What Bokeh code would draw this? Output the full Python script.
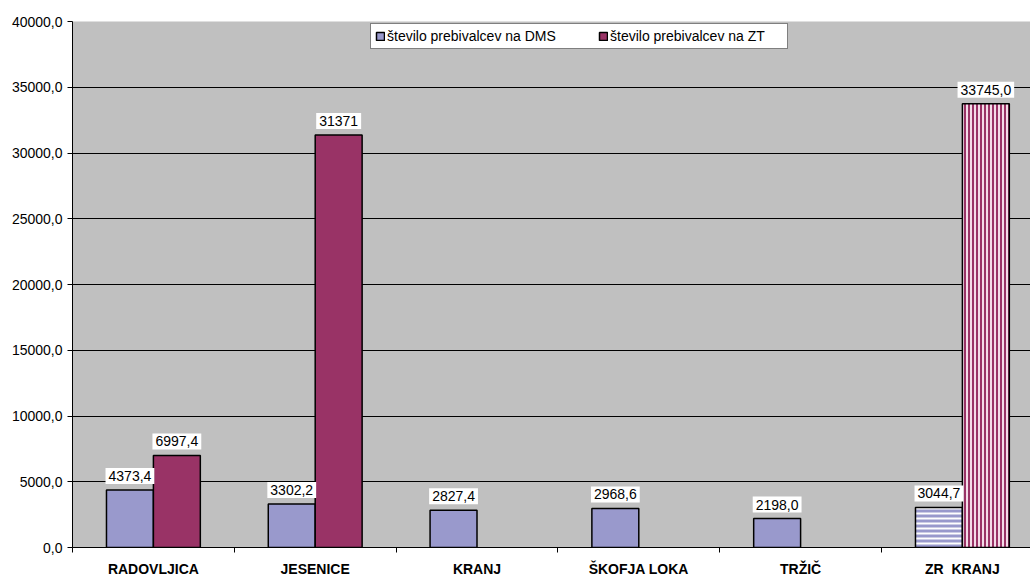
from bokeh.plotting import figure
from bokeh.models import ColumnDataSource, Range1d, FixedTicker, Legend, LegendItem
from bokeh.core.properties import value
from bokeh.embed import file_html
from bokeh.resources import INLINE

# ---- data ----
categories = ["RADOVLJICA", "JESENICE", "KRANJ", "ŠKOFJA LOKA", "TRŽIČ", "ZR\u00a0\u00a0KRANJ"]
dms_values = [4373.4, 3302.2, 2827.4, 2968.6, 2198.0, 3044.7]
zt_values = [6997.4, 31371.0, None, None, None, 33745.0]
dms_labels = ["4373,4", "3302,2", "2827,4", "2968,6", "2198,0", "3044,7"]
zt_labels = ["6997,4", "31371", "", "", "", "33745,0"]
is_total = [False, False, False, False, False, True]
y_ticks = [0, 5000, 10000, 15000, 20000, 25000, 30000, 35000, 40000]
y_tick_labels = ["0,0", "5000,0", "10000,0", "15000,0", "20000,0",
                 "25000,0", "30000,0", "35000,0", "40000,0"]
series_names = ["število prebivalcev na DMS", "število prebivalcev na ZT"]

# ---- styling ----
DMS_COLOR = "#9999CC"
ZT_COLOR = "#993366"
BG = "#C0C0C0"
FONT = "Liberation Sans"
BAR_W = 0.29
OFF = 0.145

n = len(categories)
pos = [i + 1 for i in range(n)]

def build(values, labels, offset, total_flag):
    d = dict(x=[], top=[], label=[])
    for p_, v, l, t in zip(pos, values, labels, is_total):
        if v is None or t != total_flag:
            continue
        d["x"].append(p_ + offset)
        d["top"].append(v)
        d["label"].append(l)
    return ColumnDataSource(d)

dms_plain = build(dms_values, dms_labels, -OFF, False)
dms_hatch = build(dms_values, dms_labels, -OFF, True)
zt_plain = build(zt_values, zt_labels, OFF, False)
zt_hatch = build(zt_values, zt_labels, OFF, True)

frame_w = 958
cat_px = 161.8
p = figure(
    frame_width=frame_w, frame_height=526,
    min_border_left=72, min_border_top=21, min_border_right=0, min_border_bottom=0,
    x_range=Range1d(0.5, 0.5 + frame_w / cat_px), y_range=Range1d(0, 40000),
    output_backend="svg", toolbar_location=None, tools="",
    background_fill_color=BG, border_fill_color="white",
)
p.outline_line_color = None

# bars
r_dms = p.vbar(x="x", top="top", width=BAR_W, source=dms_plain,
               fill_color=DMS_COLOR, line_color="black", line_width=1.5)
r_zt = p.vbar(x="x", top="top", width=BAR_W, source=zt_plain,
              fill_color=ZT_COLOR, line_color="black", line_width=1.5)
p.vbar(x="x", top="top", width=BAR_W, source=dms_hatch,
       fill_color=DMS_COLOR, line_color="black", line_width=1.5,
       hatch_pattern="horizontal_line", hatch_color="white", hatch_scale=5, hatch_weight=2)
p.vbar(x="x", top="top", width=BAR_W, source=zt_hatch,
       fill_color=ZT_COLOR, line_color="black", line_width=1.5,
       hatch_pattern="vertical_line", hatch_color="#F4DCE8", hatch_scale=4, hatch_weight=2)

# data labels
for src in (dms_plain, dms_hatch, zt_plain, zt_hatch):
    p.text(x="x", y="top", text="label", source=src,
           text_align="center", text_baseline="bottom", y_offset=-6,
           text_font=value(FONT), text_font_size="14px", text_color="black",
           background_fill_color="white", padding=3)

# axes
p.xaxis.ticker = FixedTicker(ticks=pos, minor_ticks=[x - 0.5 for x in pos] + [pos[-1] + 0.5])
p.xaxis.major_label_overrides = {x: c for x, c in zip(pos, categories)}
p.xaxis.major_tick_out = 0
p.xaxis.major_tick_in = 0
p.xaxis.minor_tick_out = 5
p.xaxis.minor_tick_in = 0
p.xaxis.minor_tick_line_color = "black"
p.xaxis.major_label_standoff = 8
p.xaxis.major_label_text_font = FONT
p.xaxis.major_label_text_font_size = "14px"
p.xaxis.major_label_text_font_style = "bold"
p.xaxis.major_label_text_color = "black"
p.xaxis.axis_line_color = "black"

p.yaxis.ticker = FixedTicker(ticks=y_ticks)
p.yaxis.major_label_overrides = {t: l for t, l in zip(y_ticks, y_tick_labels)}
p.yaxis.major_tick_out = 5
p.yaxis.major_tick_in = 0
p.yaxis.minor_tick_line_color = None
p.yaxis.major_label_standoff = 5
p.yaxis.major_label_text_font = FONT
p.yaxis.major_label_text_font_size = "14px"
p.yaxis.major_label_text_color = "black"
p.yaxis.axis_line_color = "black"
p.yaxis.major_tick_line_color = "black"

p.xgrid.grid_line_color = None
p.ygrid.ticker = FixedTicker(ticks=y_ticks[1:-1])
p.ygrid.grid_line_color = "black"
p.ygrid.grid_line_width = 1

legend = Legend(
    items=[LegendItem(label=series_names[0], renderers=[r_dms]),
           LegendItem(label=series_names[1], renderers=[r_zt])],
    orientation="horizontal", location=(298, 498),
    glyph_width=10, glyph_height=10, label_standoff=2, spacing=38, padding=4,
    label_width=173,
    border_line_color="black", border_line_width=1,
    background_fill_color="white", background_fill_alpha=1,
    label_text_font=FONT, label_text_font_size="14px", label_text_color="black",
    margin=0,
)
p.add_layout(legend)

open("out.html", "w").write(file_html(p, INLINE))
